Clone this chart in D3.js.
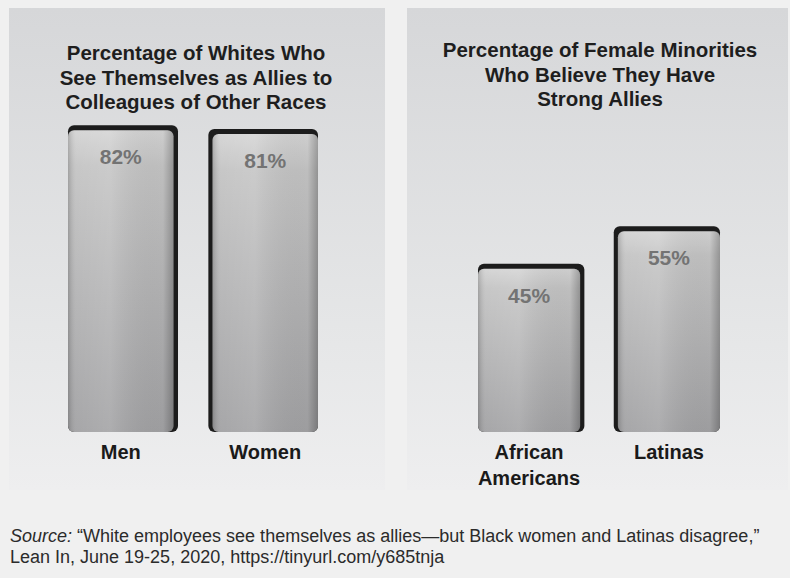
<!DOCTYPE html>
<html>
<head>
<meta charset="utf-8">
<script src="https://cdn.jsdelivr.net/npm/d3@7"></script>
<style>
  html, body { margin: 0; padding: 0; background: #f0f0f0; }
  svg { display: block; font-family: "Liberation Sans", Arial, Helvetica, sans-serif; }
</style>
</head>
<body>
<div id="chart"></div>
<script>
// data
const leftTitle = ["Percentage of Whites Who", "See Themselves as Allies to", "Colleagues of Other Races"];
const leftCategories = ["Men", "Women"];
const leftValues = [82, 81];

const rightTitle = ["Percentage of Female Minorities", "Who Believe They Have", "Strong Allies"];
const rightCategories = ["African Americans", "Latinas"];
const rightValues = [45, 55];

const sourceLines = [
    ["Source:", " \u201cWhite employees see themselves as allies\u2014but Black women and Latinas disagree,\u201d"],
    ["", "Lean In, June 19-25, 2020, https://tinyurl.com/y685tnja"]
];

const width = 790;
const height = 578;

const svg = d3.select('#chart')
    .append('svg')
    .attr('width', width)
    .attr('height', height);

const defs = svg.append('defs');

// panel background: darker at top, fading out at bottom
const panelGrad = defs.append('linearGradient')
    .attr('id', 'panelGrad')
    .attr('x1', 0).attr('y1', 0).attr('x2', 0).attr('y2', 1);
panelGrad.append('stop').attr('offset', '0%').attr('stop-color', '#d6d7d9');
panelGrad.append('stop').attr('offset', '70%').attr('stop-color', '#e6e7e8');
panelGrad.append('stop').attr('offset', '100%').attr('stop-color', '#eeeeef');

// bar face, vertical shading
const barGrad = defs.append('linearGradient')
    .attr('id', 'barGrad')
    .attr('x1', 0).attr('y1', 0).attr('x2', 0).attr('y2', 1);
barGrad.append('stop').attr('offset', '0%').attr('stop-color', '#d4d4d4');
barGrad.append('stop').attr('offset', '12%').attr('stop-color', '#c4c4c4');
barGrad.append('stop').attr('offset', '100%').attr('stop-color', '#a2a2a4');

// bar face, horizontal highlight
const barShine = defs.append('linearGradient')
    .attr('id', 'barShine')
    .attr('x1', 0).attr('y1', 0).attr('x2', 1).attr('y2', 0);
barShine.append('stop').attr('offset', '0%').attr('stop-color', '#000').attr('stop-opacity', 0.18);
barShine.append('stop').attr('offset', '8%').attr('stop-color', '#fff').attr('stop-opacity', 0.05);
barShine.append('stop').attr('offset', '40%').attr('stop-color', '#fff').attr('stop-opacity', 0.12);
barShine.append('stop').attr('offset', '90%').attr('stop-color', '#000').attr('stop-opacity', 0.03);
barShine.append('stop').attr('offset', '100%').attr('stop-color', '#000').attr('stop-opacity', 0.25);

const y = d3.scaleLinear()
    .domain([0, 100])
    .range([432, 58]);

const panels = [
    {
        x0: 9, x1: 385, center: 196,
        title: leftTitle, titleY: 60,
        categories: leftCategories, values: leftValues,
        range: [68, 318]
    },
    {
        x0: 407, x1: 788, center: 600,
        title: rightTitle, titleY: 57,
        categories: rightCategories, values: rightValues,
        range: [478, 720]
    }
];

panels.forEach(p => {
    const g = svg.append('g');

    g.append('rect')
        .attr('x', p.x0)
        .attr('y', 8)
        .attr('width', p.x1 - p.x0)
        .attr('height', 482)
        .attr('fill', 'url(#panelGrad)');

    g.append('text')
        .attr('text-anchor', 'middle')
        .attr('font-size', 20.5)
        .attr('font-weight', 'bold')
        .attr('fill', '#1e1e1e')
        .selectAll('tspan')
        .data(p.title)
        .join('tspan')
        .attr('x', p.center)
        .attr('y', (d, i) => p.titleY + i * 24.5)
        .text(d => d);

    const x = d3.scaleBand()
        .domain(p.categories)
        .range(p.range)
        .paddingInner(0.27)
        .paddingOuter(0);

    const rows = p.categories.map((c, i) => ({ cat: c, value: p.values[i] }));

    const bars = g.selectAll('.bar')
        .data(rows)
        .join('g')
        .attr('class', 'bar');

    // depth edge seen from the panel's vantage point
    bars.append('rect')
        .attr('x', d => x(d.cat) - Math.max(0, (x(d.cat) + x.bandwidth() / 2 - p.center) * 0.06))
        .attr('y', d => y(d.value))
        .attr('width', d => x.bandwidth() + Math.abs((x(d.cat) + x.bandwidth() / 2 - p.center) * 0.06))
        .attr('height', d => y(0) - y(d.value))
        .attr('rx', 6)
        .attr('fill', '#1c1c1c');

    bars.append('rect')
        .attr('x', d => x(d.cat))
        .attr('y', d => y(d.value) + 5)
        .attr('width', x.bandwidth())
        .attr('height', d => y(0) - y(d.value) - 5)
        .attr('rx', 6)
        .attr('fill', 'url(#barGrad)');

    bars.append('rect')
        .attr('x', d => x(d.cat))
        .attr('y', d => y(d.value) + 5)
        .attr('width', x.bandwidth())
        .attr('height', d => y(0) - y(d.value) - 5)
        .attr('rx', 6)
        .attr('fill', 'url(#barShine)');

    bars.append('text')
        .attr('x', d => x(d.cat) + x.bandwidth() / 2)
        .attr('y', d => y(d.value) + 39)
        .attr('text-anchor', 'middle')
        .attr('font-size', 21)
        .attr('font-weight', 'bold')
        .attr('fill', '#737373')
        .text(d => d.value + '%');

    bars.append('text')
        .attr('text-anchor', 'middle')
        .attr('font-size', 20)
        .attr('font-weight', 'bold')
        .attr('fill', '#1a1a1a')
        .selectAll('tspan')
        .data(d => d.cat.split(' ').map(t => ({ t, cat: d.cat })))
        .join('tspan')
        .attr('x', d => x(d.cat) + x.bandwidth() / 2)
        .attr('y', (d, i) => 459 + i * 26)
        .text(d => d.t);
});

// source note
const src = svg.append('text')
    .attr('font-size', 18)
    .attr('fill', '#2b2b2b');

sourceLines.forEach((line, i) => {
    const t = src.append('tspan')
        .attr('x', 10)
        .attr('y', 542 + i * 21);
    if (line[0]) {
        t.append('tspan').attr('font-style', 'italic').text(line[0]);
    }
    t.append('tspan').text(line[1]);
});
</script>
</body>
</html>
